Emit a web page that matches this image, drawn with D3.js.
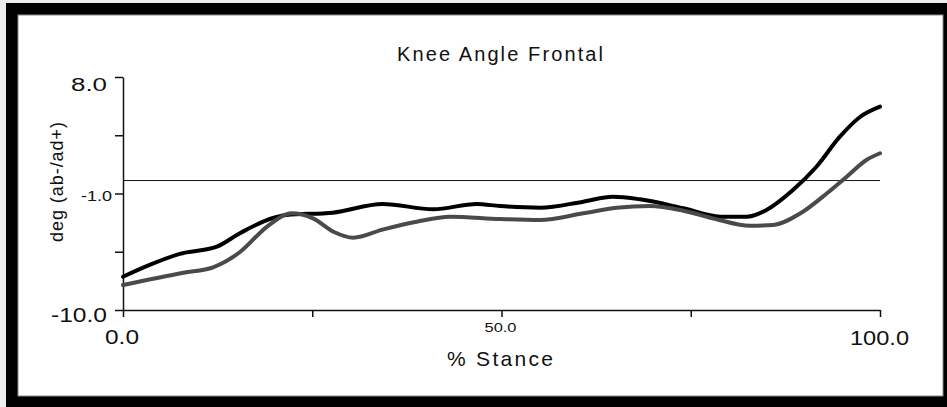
<!DOCTYPE html>
<html>
<head>
<meta charset="utf-8">
<script src="https://cdn.jsdelivr.net/npm/d3@7"></script>
<style>
  html, body { margin: 0; padding: 0; background: #ececec; }
  svg { display: block; }
  text { font-family: "Liberation Sans", Arial, sans-serif; fill: #111; }
</style>
</head>
<body>
<svg id="chart" width="947" height="407"></svg>
<script>
// Knee angle in the frontal plane over the stance phase (two trials)
const titleText = "Knee Angle Frontal";
const xAxisTitle = "% Stance";
const yAxisTitle = "deg (ab-/ad+)";

const xTickValues = [0, 25, 50, 75, 100];
const xTickLabels = ["0.0", "", "50.0", "", "100.0"];
const yTickValues = [8, 3.5, -1, -5.5, -10];
const yTickLabels = ["8.0", "", "-1.0", "", "-10.0"];

// trial 1 (black)
const trial1Stance = [0, 3.6, 7.5, 12.4, 15.5, 19.8, 21.6, 27.7, 34.3, 41.0, 46.7, 49.8, 55.1, 60.8, 64.7, 68.3, 74.0, 78.9, 82.4, 85.0, 88.5, 91.6, 94.7, 97.4, 100];
const trial1Angle  = [-7.43, -6.5, -5.67, -5.11, -4.05, -2.89, -2.66, -2.48, -1.81, -2.22, -1.81, -1.97, -2.10, -1.63, -1.25, -1.45, -2.14, -2.79, -2.79, -2.27, -0.73, 1.07, 3.39, 4.93, 5.71];

// trial 2 (grey)
const trial2Stance = [0, 8.0, 11.9, 15.5, 19.0, 22.3, 25.1, 27.8, 30.4, 34.4, 38.8, 43.2, 49.8, 55.1, 60.8, 65.2, 69.6, 74.0, 78.4, 82.8, 85.9, 89.5, 93.0, 95.6, 98.2, 100];
const trial2Angle  = [-8.07, -7.12, -6.70, -5.50, -3.57, -2.53, -2.92, -3.95, -4.41, -3.77, -3.18, -2.79, -2.97, -3.05, -2.53, -2.10, -1.97, -2.33, -2.99, -3.49, -3.43, -2.53, -0.98, 0.30, 1.59, 2.11];

const svg = d3.select("#chart");

// window-style frame
svg.append("rect").attr("x", 6).attr("y", 3).attr("width", 960).attr("height", 420).attr("fill", "#000");
svg.append("rect").attr("x", 18).attr("y", 15).attr("width", 925).attr("height", 381)
  .attr("fill", "#fff").attr("stroke", "#8a8a8a").attr("stroke-width", 1);

const x = d3.scaleLinear().domain([0, 100]).range([123, 880]);
const y = d3.scaleLinear().domain([-10, 8]).range([310, 77]);

// title
svg.append("text").attr("x", 500).attr("y", 61).attr("text-anchor", "middle")
  .attr("font-size", 20).attr("textLength", 206).attr("lengthAdjust", "spacing")
  .text(titleText);

// x axis
const xAxis = svg.append("g").attr("transform", `translate(0,${y(-10)})`)
  .call(d3.axisBottom(x).tickValues(xTickValues).tickSize(7).tickSizeOuter(0)
    .tickFormat((d, i) => xTickLabels[i]));
const xLabelStyle = {
  "0.0":   { size: 21, len: 34, dx: -1.5, base: 34 },
  "50.0":  { size: 13, len: 32, dx: -1.5, base: 22 },
  "100.0": { size: 21, len: 59, dx: -1,   base: 35 }
};
xAxis.selectAll(".tick text").each(function (d, i) {
  const s = xLabelStyle[xTickLabels[i]];
  const t = d3.select(this);
  if (!s) { t.remove(); return; }
  t.attr("y", s.base).attr("dy", null).attr("x", s.dx)
    .attr("font-size", s.size).attr("textLength", s.len).attr("lengthAdjust", "spacingAndGlyphs");
});

// y axis
const yAxis = svg.append("g").attr("transform", `translate(${x(0)},0)`)
  .call(d3.axisLeft(y).tickValues(yTickValues).tickSize(8).tickSizeOuter(0)
    .tickFormat((d, i) => yTickLabels[i]));
const yLabelStyle = {
  "8.0":   { size: 18, len: 36, dx: -16, base: 13 },
  "-1.0":  { size: 15, len: 31, dx: -11, base: 7 },
  "-10.0": { size: 20, len: 56, dx: -16, base: 11 }
};
yAxis.selectAll(".tick text").each(function (d, i) {
  const s = yLabelStyle[yTickLabels[i]];
  const t = d3.select(this);
  if (!s) { t.remove(); return; }
  t.attr("x", s.dx).attr("dy", null).attr("y", s.base)
    .attr("font-size", s.size).attr("textLength", s.len).attr("lengthAdjust", "spacingAndGlyphs");
});

svg.selectAll(".domain, .tick line").attr("stroke", "#111").attr("stroke-width", 1.5);
svg.selectAll(".tick text").attr("fill", "#111").attr("font-family", "Liberation Sans, Arial, sans-serif");

// axis titles
svg.append("text").attr("x", 500).attr("y", 366).attr("text-anchor", "middle")
  .attr("font-size", 21).attr("textLength", 106).attr("lengthAdjust", "spacing")
  .text(xAxisTitle);
svg.append("text").attr("transform", "translate(63,182) rotate(-90)").attr("text-anchor", "middle")
  .attr("font-size", 18).attr("textLength", 120).attr("lengthAdjust", "spacing")
  .text(yAxisTitle);

// zero reference line
svg.append("line").attr("x1", x(0)).attr("x2", x(100)).attr("y1", y(0)).attr("y2", y(0))
  .attr("stroke", "#111").attr("stroke-width", 1);

// traces
const line = d3.line().x(d => x(d[0])).y(d => y(d[1])).curve(d3.curveMonotoneX);
const trial1 = trial1Stance.map((s, i) => [s, trial1Angle[i]]);
const trial2 = trial2Stance.map((s, i) => [s, trial2Angle[i]]);

svg.append("path").datum(trial1).attr("d", line).attr("fill", "none")
  .attr("stroke", "#000").attr("stroke-width", 4).attr("stroke-linejoin", "round").attr("stroke-linecap", "round");
svg.append("path").datum(trial2).attr("d", line).attr("fill", "none")
  .attr("stroke", "#4a4a4a").attr("stroke-width", 4).attr("stroke-linejoin", "round").attr("stroke-linecap", "round");
</script>
</body>
</html>
